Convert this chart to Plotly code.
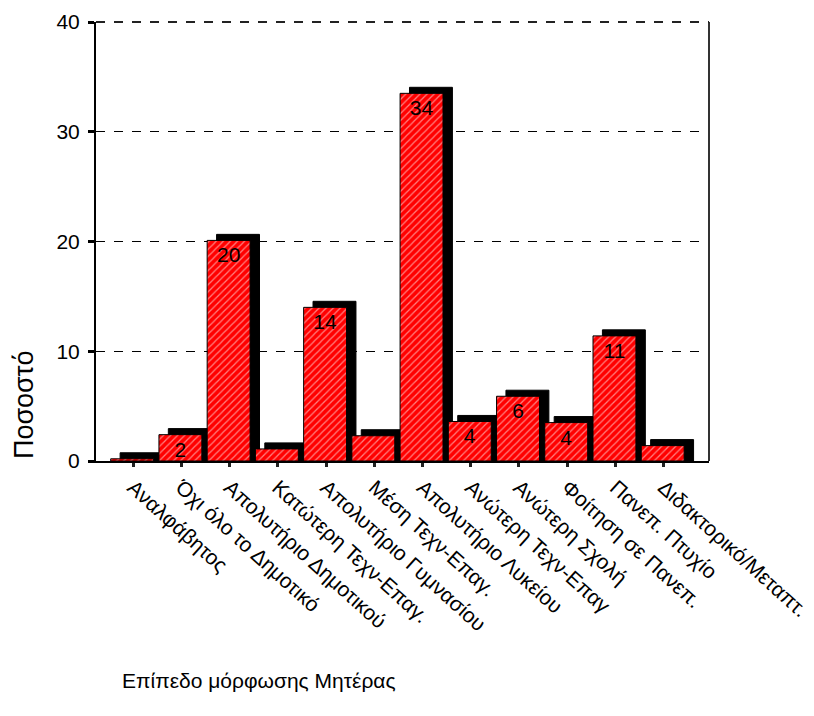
import plotly.graph_objects as go

categories = [
    "Αναλφάβητος",
    "Όχι όλο το Δημοτικό",
    "Απολυτήριο Δημοτικού",
    "Κατώτερη Τεχν-Επαγ.",
    "Απολυτήριο Γυμνασίου",
    "Μέση Τεχν-Επαγ.",
    "Απολυτήριο Λυκείου",
    "Ανώτερη Τεχν-Επαγ",
    "Ανώτερη Σχολή",
    "Φοίτηση σε Πανεπ.",
    "Πανεπ. Πτυχίο",
    "Διδακτορικό/Μεταπτ.",
]
values = [0.2, 2.4, 20.1, 1.1, 14.0, 2.3, 33.5, 3.6, 5.9, 3.5, 11.4, 1.4]
bar_labels = ["", "2", "20", "", "14", "", "34", "4", "6", "4", "11", ""]

y_ticks = [0, 10, 20, 30, 40]

FONT = "Liberation Sans, Arial, sans-serif"
shadow_dy = 0.55  # depth of 3D shadow in data units

fig = go.Figure()

# shadow (3D depth) bars
fig.add_trace(go.Bar(
    x=categories,
    y=[v + shadow_dy for v in values],
    width=0.89,
    offset=-0.27,
    marker=dict(color="black", line=dict(color="black", width=1)),
    hoverinfo="skip",
    showlegend=False,
))

# main red hatched bars
fig.add_trace(go.Bar(
    x=categories,
    y=values,
    width=0.89,
    offset=-0.465,
    text=bar_labels,
    textposition="inside",
    insidetextanchor="end",
    textangle=0,
    textfont=dict(family=FONT, size=21, color="black"),
    marker=dict(
        color="#ff0000",
        line=dict(color="black", width=1),
        pattern=dict(shape="/", fgcolor="white", bgcolor="#ff0000", size=5, solidity=0.25),
    ),
    showlegend=False,
))

fig.update_layout(
    width=806,
    height=700,
    barmode="overlay",
    plot_bgcolor="white",
    paper_bgcolor="white",
    margin=dict(l=88, r=105, t=14, b=247),
    font=dict(family=FONT, size=20, color="black"),
    uniformtext=dict(minsize=21, mode="show"),
    xaxis=dict(
        type="category",
        categoryorder="array",
        categoryarray=categories,
        range=[-0.77, 11.94],
        tickangle=42,
        tickfont=dict(family=FONT, size=21, color="black"),
        automargin=False,
        showline=True,
        linecolor="black",
        linewidth=2,
        ticks="outside",
        ticklen=4,
        tickwidth=3,
        tickcolor="#222",
        showgrid=False,
        zeroline=False,
    ),
    yaxis=dict(
        range=[0, 40],
        tickvals=y_ticks,
        ticktext=[str(t) for t in y_ticks],
        tickfont=dict(family=FONT, size=21, color="black"),
        ticklabelstandoff=4,
        automargin=False,
        showline=True,
        linecolor="black",
        linewidth=2,
        ticks="outside",
        ticklen=6,
        tickwidth=3,
        tickcolor="black",
        showgrid=True,
        gridcolor="black",
        gridwidth=1,
        griddash="dash",
        zeroline=False,
    ),
    shapes=[
        dict(type="line", xref="paper", yref="paper", x0=1, x1=1, y0=0, y1=1,
             line=dict(color="#333333", width=2)),
        dict(type="line", xref="paper", yref="paper", x0=0, x1=1, y0=1, y1=1,
             line=dict(color="#222222", width=2, dash="dash")),
    ],
    annotations=[
        dict(text="Ποσοστό", xref="paper", yref="paper", x=-0.117, y=0.128,
             textangle=-90, showarrow=False, xanchor="center", yanchor="middle",
             font=dict(family=FONT, size=27, color="black")),
        dict(text="Επίπεδο μόρφωσης Μητέρας", xref="paper", yref="paper",
             x=0.039, y=-0.499, showarrow=False, xanchor="left", yanchor="middle",
             font=dict(family=FONT, size=21, color="black")),
    ],
)

fig.write_html("out.html")
